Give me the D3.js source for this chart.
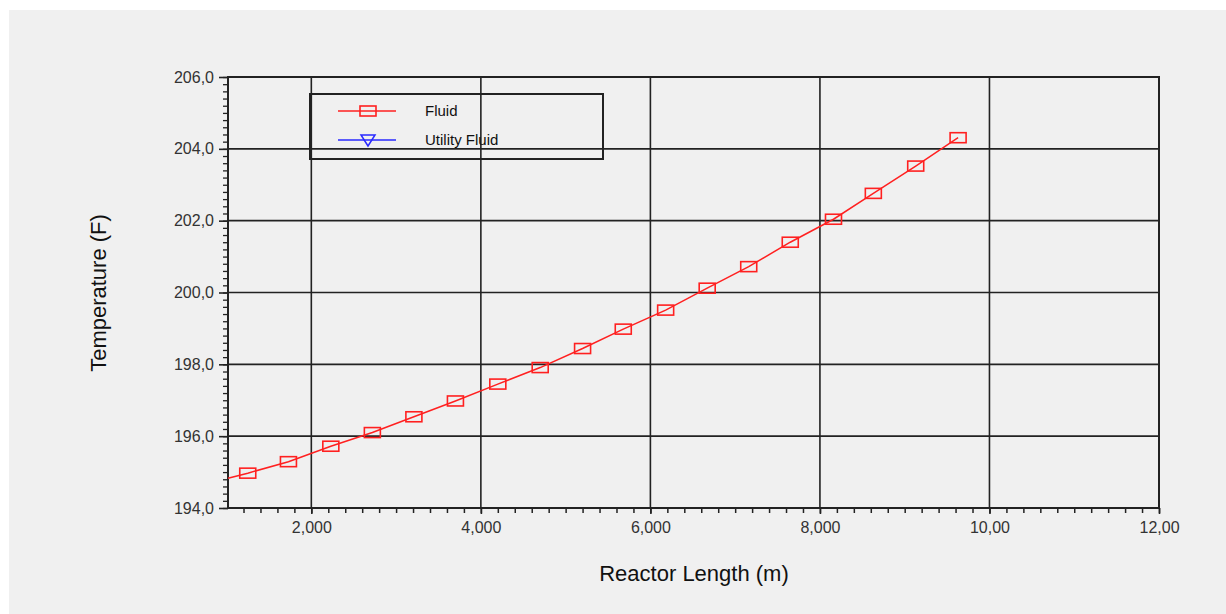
<!DOCTYPE html>
<html>
<head>
<meta charset="utf-8">
<script src="https://cdn.jsdelivr.net/npm/d3@7"></script>
<style>
	body	{ margin:0; background:#ffffff; }
	svg	{ display:block; font-family:"Liberation Sans", Arial, sans-serif; }
</style>
</head>
<body>
<svg id="chart" width="1226" height="614"></svg>
<script>
// reactor profile
var	fluidLength	= [1.017, 1.25, 1.73, 2.23, 2.72, 3.21, 3.70, 4.20, 4.70, 5.20, 5.68, 6.18, 6.67, 7.16, 7.65, 8.16, 8.63, 9.13, 9.63],
	fluidTemp	= [194.83, 194.97, 195.29, 195.72, 196.10, 196.54, 196.98, 197.45, 197.91, 198.44, 198.98, 199.51, 200.12, 200.72, 201.40, 202.04, 202.76, 203.52, 204.31],
	fluidMarker	= [false, true, true, true, true, true, true, true, true, true, true, true, true, true, true, true, true, true, true],
	xTicks		= [2, 4, 6, 8, 10, 12],
	xTickLabels	= ["2,000", "4,000", "6,000", "8,000", "10,00", "12,00"],
	yTicks		= [194, 196, 198, 200, 202, 204, 206],
	yTickLabels	= ["194,0", "196,0", "198,0", "200,0", "202,0", "204,0", "206,0"],
	legendNames	= ["Fluid", "Utility Fluid"],
	legendColors	= ["#ff2020", "#2a2aff"];

var	svg	= d3.select("#chart"),
	pLeft	= 228, pRight = 1159, pTop = 77, pBottom = 508,
	x	= d3.scaleLinear().domain([1.017, 12]).range([pLeft, pRight]),
	y	= d3.scaleLinear().domain([194, 206]).range([pBottom, pTop]),
	ink	= "#222";

// grey panel
svg.append("rect").attr("x", 9).attr("y", 10).attr("width", 1217).attr("height", 604).attr("fill", "#f0f0f0");

// grid
var grid = svg.append("g");
grid.selectAll(".gx").data(xTicks.slice(0, -1)).enter().append("line")
	.attr("x1", function(d) { return x(d); }).attr("x2", function(d) { return x(d); })
	.attr("y1", pTop).attr("y2", pBottom).attr("stroke", ink).attr("stroke-width", 1.6);
grid.selectAll(".gy").data(yTicks.slice(1, -1)).enter().append("line")
	.attr("y1", function(d) { return y(d); }).attr("y2", function(d) { return y(d); })
	.attr("x1", pLeft).attr("x2", pRight).attr("stroke", ink).attr("stroke-width", 1.6);

// minor ticks every 0.2
var	xMinor	= d3.range(1.2, 12.001, 0.2).filter(function(v) { return v >= 1.017; }),
	yMinor	= d3.range(194, 206.001, 0.2);

var xAxis = d3.axisBottom(x).tickValues(xMinor).tickSize(5).tickFormat("");
svg.append("g").attr("transform", "translate(0," + pBottom + ")").call(xAxis)
	.call(function(g) { g.select(".domain").remove(); g.selectAll("line").attr("stroke", ink).attr("stroke-width", 1.5); });
var yAxis = d3.axisLeft(y).tickValues(yMinor).tickSize(5).tickFormat("");
svg.append("g").attr("transform", "translate(" + pLeft + ",0)").call(yAxis)
	.call(function(g) { g.select(".domain").remove(); g.selectAll("line").attr("stroke", ink).attr("stroke-width", 1.3); });

// major ticks + labels
var xMajor = d3.axisBottom(x).tickValues(xTicks).tickSize(6).tickPadding(8)
	.tickFormat(function(d, i) { return xTickLabels[i]; });
svg.append("g").attr("transform", "translate(0," + pBottom + ")").call(xMajor)
	.call(function(g) {
		g.select(".domain").remove();
		g.selectAll("line").attr("stroke", ink).attr("stroke-width", 1.6);
		g.selectAll("text").attr("font-size", 16).attr("fill", "#333").attr("font-family", null);
	});
var yMajor = d3.axisLeft(y).tickValues(yTicks).tickSize(9).tickPadding(5)
	.tickFormat(function(d, i) { return yTickLabels[i]; });
svg.append("g").attr("transform", "translate(" + pLeft + ",0)").call(yMajor)
	.call(function(g) {
		g.select(".domain").remove();
		g.selectAll("line").attr("stroke", ink).attr("stroke-width", 1.6);
		g.selectAll("text").attr("font-size", 16).attr("fill", "#333").attr("font-family", null);
	});

// frame
svg.append("rect").attr("x", pLeft).attr("y", pTop).attr("width", pRight - pLeft).attr("height", pBottom - pTop)
	.attr("fill", "none").attr("stroke", ink).attr("stroke-width", 2);

// series
var	pts	= fluidLength.map(function(v, i) { return {x: v, y: fluidTemp[i], m: fluidMarker[i]}; }),
	line	= d3.line().x(function(d) { return x(d.x); }).y(function(d) { return y(d.y); });
svg.append("path").datum(pts).attr("d", line).attr("fill", "none")
	.attr("stroke", legendColors[0]).attr("stroke-width", 1.5);
svg.selectAll(".mk").data(pts.filter(function(d) { return d.m; })).enter().append("rect")
	.attr("x", function(d) { return x(d.x) - 8; }).attr("y", function(d) { return y(d.y) - 5; })
	.attr("width", 16).attr("height", 10).attr("fill", "none")
	.attr("stroke", legendColors[0]).attr("stroke-width", 1.6);

// legend
var lg = svg.append("g");
lg.append("rect").attr("x", 310).attr("y", 94).attr("width", 293).attr("height", 65)
	.attr("fill", "none").attr("stroke", ink).attr("stroke-width", 2);
var items = lg.selectAll(".it").data(legendNames).enter().append("g")
	.attr("transform", function(d, i) { return "translate(0," + (111 + i * 29) + ")"; });
items.append("line").attr("x1", 338).attr("x2", 396).attr("stroke", function(d, i) { return legendColors[i]; }).attr("stroke-width", 1.5);
items.filter(function(d, i) { return i == 0; }).append("rect")
	.attr("x", 360).attr("y", -5).attr("width", 16).attr("height", 10)
	.attr("fill", "none").attr("stroke", legendColors[0]).attr("stroke-width", 1.6);
items.filter(function(d, i) { return i == 1; }).append("path")
	.attr("d", "M361,-5L375,-5L368,6Z")
	.attr("fill", "none").attr("stroke", legendColors[1]).attr("stroke-width", 1.5);
items.append("text").attr("x", 425).attr("dy", "0.35em").attr("font-size", 15).attr("fill", "#111")
	.text(function(d) { return d; });

// axis titles
svg.append("text").attr("x", 694).attr("y", 581).attr("text-anchor", "middle")
	.attr("font-size", 22).attr("fill", "#111").text("Reactor Length (m)");
svg.append("text").attr("transform", "translate(106,293) rotate(-90)").attr("text-anchor", "middle")
	.attr("font-size", 22).attr("fill", "#111").text("Temperature (F)");
</script>
</body>
</html>
